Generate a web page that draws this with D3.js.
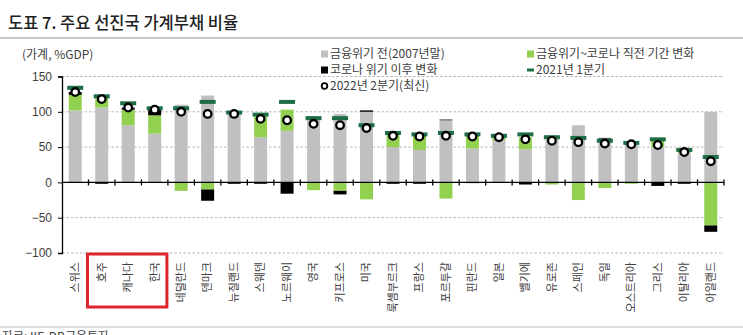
<!DOCTYPE html>
<html>
<head>
<meta charset="utf-8">
<script src="https://cdn.jsdelivr.net/npm/d3@7"></script>
<style>
  body { margin: 0; background: #fff; }
  svg { display: block; font-family: "Noto Sans CJK KR", "Noto Sans", sans-serif; }
</style>
</head>
<body>
<svg id="chart" width="743" height="335"></svg>
<script>
// countries, in chart order
const countries = ['스위스', '호주', '캐나다', '한국', '네덜란드', '덴마크', '뉴질랜드', '스웨덴', '노르웨이', '영국',
  '키프로스', '미국', '룩셈부르크', '프랑스', '포르투갈', '핀란드', '일본', '벨기에', '유로존', '스페인',
  '독일', '오스트리아', '그리스', '이탈리아', '아일랜드'];

// %GDP
const preGfc2007 = [102, 106, 81, 69, 110, 123, 96, 64, 73, 94, 97, 100, 50, 46, 88, 48, 60, 47, 62, 81, 62, 56, 50, 42, 100];
const gfcToCovid = [22, 14, 22, 26, -12, -10, 3, 29, 30, -11, -12, -24, 19, 21, -23, 18, 3, 17, -3, -25, -8, -2, 9, 3, -61];
const postCovid = [4, -2, 3, 8, 0, -16, -2, -2, -16, 0, -5, 2, -2, -2, 1, -1, 1, -3, 0, 0, 1, 0, -5, -2, -9];
const q1_2021 = [134, 122, 112, 105, 105, 114, 99, 96, 114, 91, 91, 81, 70, 68, 70, 68, 66, 68, 64, 63, 59, 56, 61, 46, 36];
const q2_2022 = [128, 118, 106, 103, 100, 97, 97, 90, 88, 83, 81, 77, 66, 65, 66, 65, 64, 61, 59, 57, 55, 54, 53, 43, 30];

const yTicks = [-100, -50, 0, 50, 100, 150];
const highlighted = ['호주', '캐나다', '한국'];

const svg = d3.select('#chart');
const textColor = '#404040';

// title + rules
svg.append('text').attr('x', 8).attr('y', 29)
  .attr('font-size', 16.5).attr('font-weight', 500).attr('fill', '#222')
  .text('도표 7. 주요 선진국 가계부채 비율');
svg.append('line').attr('x1', 0).attr('x2', 743).attr('y1', 38).attr('y2', 38)
  .attr('stroke', '#c8c8c8').attr('stroke-width', 2);
svg.append('line').attr('x1', 0).attr('x2', 743).attr('y1', 327).attr('y2', 327)
  .attr('stroke', '#d0d0d0').attr('stroke-width', 1.5);
svg.append('text').attr('x', 2).attr('y', 341)
  .attr('font-size', 12).attr('fill', textColor)
  .text('자료: IIF, DB금융투자');

svg.append('text').attr('x', 22).attr('y', 59)
  .attr('font-size', 12).attr('fill', textColor)
  .text('(가계, %GDP)');

const x = d3.scaleBand().domain(countries).range([62, 724]).padding(0);
const y = d3.scaleLinear().domain([-100, 150]).range([253, 76.5]);
const barW = x.bandwidth() * 0.49;
const cx = d => x(d) + x.bandwidth() / 2;

// gridlines
svg.append('g').selectAll('line')
  .data(yTicks.filter(t => t !== 0))
  .join('line')
  .attr('x1', 62).attr('x2', 724)
  .attr('y1', d => y(d)).attr('y2', d => y(d))
  .attr('stroke', '#b5b5b5').attr('stroke-dasharray', '2.5,2');

// stacked bars
const rows = countries.map((c, i) => ({ c, pre: preGfc2007[i], gfc: gfcToCovid[i], covid: postCovid[i] }));
const stack = d3.stack().keys(['pre', 'gfc', 'covid']).offset(d3.stackOffsetDiverging)(rows);
const colors = { pre: '#c0c0c0', gfc: '#92d050', covid: '#000000' };

svg.append('g').selectAll('g')
  .data(stack)
  .join('g')
  .attr('fill', s => colors[s.key])
  .selectAll('rect')
  .data(s => s)
  .join('rect')
  .attr('x', d => cx(d.data.c) - barW / 2)
  .attr('width', barW)
  .attr('y', d => y(Math.max(d[0], d[1])))
  .attr('height', d => Math.abs(y(d[0]) - y(d[1])));

// y axis
const yAxis = svg.append('g').attr('transform', 'translate(62,0)')
  .call(d3.axisLeft(y).tickValues(yTicks).tickSize(4).tickPadding(6));
yAxis.select('.domain').attr('stroke', '#000').attr('stroke-width', 1.3);
yAxis.selectAll('.tick line').attr('stroke', '#000');
yAxis.selectAll('text').attr('font-size', 12).attr('fill', textColor)
  .attr('font-family', '"Liberation Sans", Arial, sans-serif');

// zero line with category ticks
const xAxis = svg.append('g').attr('transform', `translate(0,${y(0)})`);
xAxis.append('line').attr('x1', 62).attr('x2', 724).attr('stroke', '#000').attr('stroke-width', 1.3);
xAxis.selectAll('.ct')
  .data(countries.slice(1).map(c => x(c)).concat([724]))
  .join('line')
  .attr('x1', d => d).attr('x2', d => d).attr('y1', -3).attr('y2', 3)
  .attr('stroke', '#000').attr('stroke-width', 1.3);

// 2021 Q1 markers
const dashW = 16;
svg.append('g').selectAll('rect')
  .data(countries)
  .join('rect')
  .attr('x', d => cx(d) - dashW / 2)
  .attr('y', (d, i) => y(q1_2021[i]) - 2)
  .attr('width', dashW).attr('height', 4)
  .attr('fill', '#1d6e46');

// 2022 Q2 markers
svg.append('g').selectAll('circle')
  .data(countries)
  .join('circle')
  .attr('cx', d => cx(d))
  .attr('cy', (d, i) => y(q2_2022[i]))
  .attr('r', 3.8)
  .attr('fill', '#fff').attr('stroke', '#000').attr('stroke-width', 2.3);

// category labels
svg.append('g').selectAll('text')
  .data(countries)
  .join('text')
  .attr('transform', d => `translate(${cx(d)},262) rotate(-90)`)
  .attr('dy', '0.35em')
  .attr('text-anchor', 'end')
  .attr('font-size', 11).attr('fill', textColor)
  .text(d => d);

// highlight box
const hx0 = x(highlighted[0]) - 1;
const hx1 = x(highlighted[highlighted.length - 1]) + x.bandwidth() - 1;
svg.append('rect')
  .attr('x', hx0).attr('y', 254)
  .attr('width', hx1 - hx0).attr('height', 53)
  .attr('fill', 'none').attr('stroke', '#e0242b').attr('stroke-width', 3);

// legend
const legend = svg.append('g').attr('font-size', 12).attr('fill', textColor);
const items = [
  { label: '금융위기 전(2007년말)', type: 'sq', color: '#c0c0c0', lx: 321, ly: 54 },
  { label: '금융위기~코로나 직전 기간 변화', type: 'sq', color: '#92d050', lx: 527, ly: 54 },
  { label: '코로나 위기 이후 변화', type: 'sq', color: '#000', lx: 321, ly: 70 },
  { label: '2021년 1분기', type: 'dash', color: '#1d6e46', lx: 527, ly: 70 },
  { label: '2022년 2분기(최신)', type: 'circle', lx: 321, ly: 86 }
];
items.forEach(it => {
  if (it.type === 'sq') {
    legend.append('rect').attr('x', it.lx).attr('y', it.ly - 3.5).attr('width', 7).attr('height', 7).attr('fill', it.color);
  } else if (it.type === 'dash') {
    legend.append('rect').attr('x', it.lx).attr('y', it.ly - 1.5).attr('width', 7).attr('height', 3).attr('fill', it.color);
  } else {
    legend.append('circle').attr('cx', it.lx + 3.5).attr('cy', it.ly).attr('r', 2.8)
      .attr('fill', '#fff').attr('stroke', '#000').attr('stroke-width', 1.8);
  }
  legend.append('text').attr('x', it.lx + 9).attr('y', it.ly).attr('dy', '0.35em').text(it.label);
});
</script>
</body>
</html>
